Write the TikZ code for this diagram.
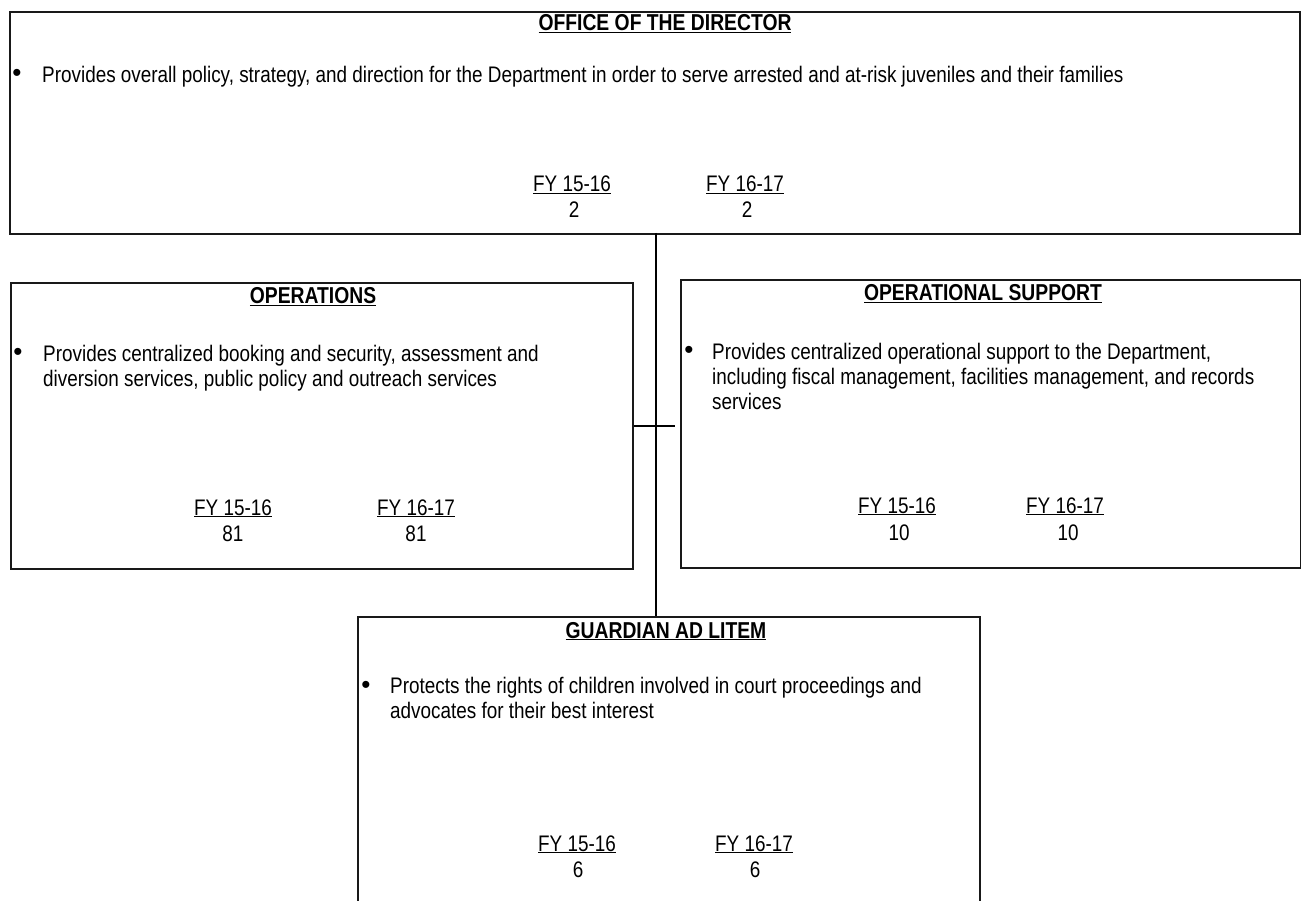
\documentclass[tikz,border=0pt]{standalone}
\usepackage{fontspec}
\setmainfont{Liberation Sans}[FakeStretch=0.84]
\newfontfamily\bulletfont{Liberation Sans}
\begin{document}
\begin{tikzpicture}[x=1pt,y=-1pt,
  orgbox/.style={draw=black!90,line width=1.8pt,inner sep=0pt,anchor=north west},
  ttl/.style={font=\fontsize{23}{25}\selectfont\bfseries,anchor=base,inner sep=0pt},
  bul/.style={font=\bulletfont\fontsize{26}{26}\selectfont,anchor=center,inner sep=0pt},
  desc/.style={font=\fontsize{22.5}{25}\selectfont,anchor=north west,inner sep=0pt,align=left},
  fy/.style={font=\fontsize{22.5}{25}\selectfont,anchor=base,inner sep=0pt},
  conn/.style={draw=black,line width=2pt}]
\useasboundingbox (0,0) rectangle (1301,901);
\fill[white] (0,0) rectangle (1301,901);
% boxes
\node[orgbox,minimum width=1290pt,minimum height=222pt] (dir) at (9,11) {};
\node[orgbox,minimum width=622pt,minimum height=286pt] (ops) at (10,282) {};
\node[orgbox,minimum width=620pt,minimum height=288pt] (sup) at (680,279) {};
\node[orgbox,minimum width=622pt,minimum height=300pt] (gal) at (357,616) {};
% connectors
\coordinate (dj) at (656,233);
\draw[conn] (dj) -- (dj |- gal.north);
\draw[conn,shorten >=5pt] (ops.east) -- (ops.east -| sup.west);
% director
\node[ttl] (dirt) at (665,30.5) {\underline{OFFICE OF THE DIRECTOR}};
\node[bul] (dirb) at (17,75) {\textbullet};
\node[desc] (dird) at (42,66) {Provides overall policy, strategy, and direction for the Department in order to serve arrested and at-risk juveniles and their families};
\node[fy] (dirf1) at (572,192) {\underline{FY 15-16}};
\node[fy] (dirn1) at (574,218) {2};
\node[fy] (dirf2) at (745,192) {\underline{FY 16-17}};
\node[fy] (dirn2) at (747,218) {2};
% operations
\node[ttl] (opst) at (313,303.5) {\underline{OPERATIONS}};
\node[bul] (opsb) at (18,354) {\textbullet};
\node[desc] (opsd) at (43,344.5) {Provides centralized booking and security, assessment and\\diversion services, public policy and outreach services};
\node[fy] (opsf1) at (233,515) {\underline{FY 15-16}};
\node[fy] (opsn1) at (233,541) {81};
\node[fy] (opsf2) at (416,515) {\underline{FY 16-17}};
\node[fy] (opsn2) at (416,541) {81};
% operational support
\node[ttl] (supt) at (983,300.5) {\underline{OPERATIONAL SUPPORT}};
\node[bul] (supb) at (689,352) {\textbullet};
\node[desc] (supd) at (712,342.5) {Provides centralized operational support to the Department,\\including fiscal management, facilities management, and records\\services};
\node[fy] (supf1) at (897,513) {\underline{FY 15-16}};
\node[fy] (supn1) at (899,540) {10};
\node[fy] (supf2) at (1065,513) {\underline{FY 16-17}};
\node[fy] (supn2) at (1068,540) {10};
% guardian ad litem
\node[ttl] (galt) at (666,638) {\underline{GUARDIAN AD LITEM}};
\node[bul] (galb) at (366,687) {\textbullet};
\node[desc] (gald) at (390,676.5) {Protects the rights of children involved in court proceedings and\\advocates for their best interest};
\node[fy] (galf1) at (577,851) {\underline{FY 15-16}};
\node[fy] (galn1) at (578,877) {6};
\node[fy] (galf2) at (754,851) {\underline{FY 16-17}};
\node[fy] (galn2) at (755,877) {6};
\end{tikzpicture}
\end{document}
